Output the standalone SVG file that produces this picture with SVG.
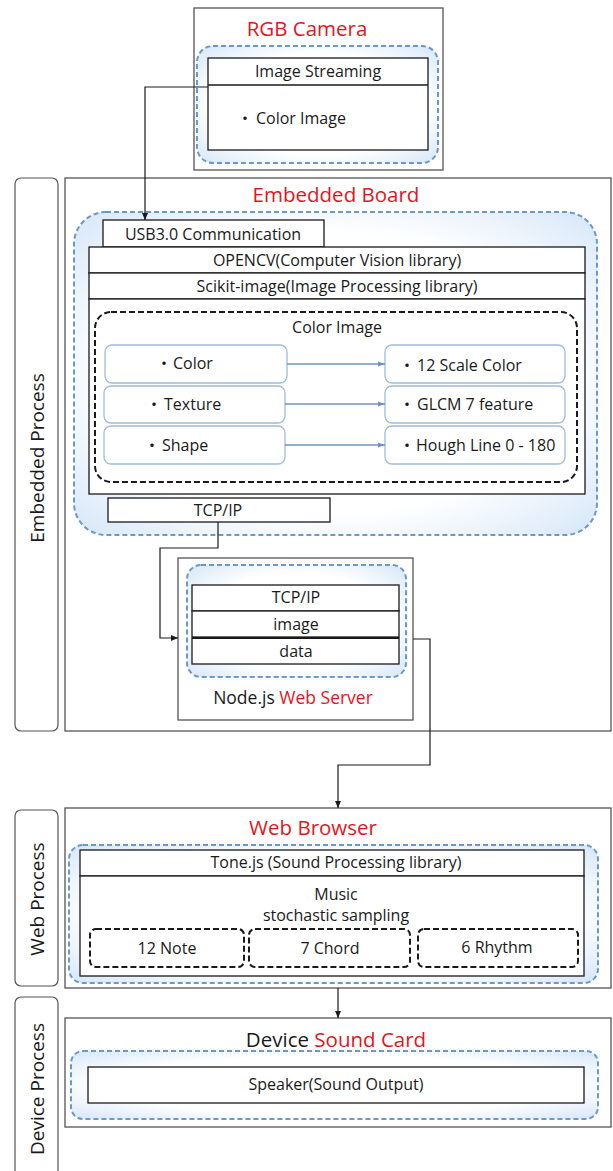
<svg xmlns="http://www.w3.org/2000/svg" width="613" height="1171" viewBox="0 0 613 1171">
<style>
text{font-family:"Open Sans","Noto Sans","Noto Sans CJK JP",sans-serif;fill:#1a1a1a}
.t{font-size:16px}
.c{text-anchor:middle}
.title{font-size:20.5px}
.red{fill:#e3161e}
.lbl{font-size:19px;text-anchor:middle}
.outer{fill:#fff;stroke:#555;stroke-width:1.3}
.side{fill:#fff;stroke:#555;stroke-width:1.2}
.box{fill:#fff;stroke:#1a1a1a;stroke-width:1.3}
.glow{fill:url(#glow);stroke:#6b98c8;stroke-width:2;stroke-dasharray:5 3}
.bdash{fill:none;stroke:#1a1a1a;stroke-width:2;stroke-dasharray:6 3}
.feat{fill:#fff;stroke:#9fbcdd;stroke-width:1.3}
.wire{fill:none;stroke:#1a1a1a;stroke-width:1.2}
.bwire{fill:none;stroke:#6f93c0;stroke-width:1.3}
</style>
<defs>
<radialGradient id="glow" cx="0.5" cy="0.5" r="0.72">
<stop offset="0.6" stop-color="#ffffff"/>
<stop offset="1" stop-color="#d3e5f8"/>
</radialGradient>
<marker id="ah" markerWidth="8" markerHeight="8" refX="7" refY="4" orient="auto" markerUnits="userSpaceOnUse">
<path d="M0,1 L7,4 L0,7 Z" fill="#1a1a1a"/>
</marker>
<marker id="bah" markerWidth="8" markerHeight="8" refX="7" refY="4" orient="auto" markerUnits="userSpaceOnUse">
<path d="M0,1.5 L7,4 L0,6.5 Z" fill="#6f93c0"/>
</marker>
</defs>

<g id="embedded-process-label">
<rect class="side" x="15" y="178" width="43" height="553" rx="6"/>
<text class="lbl" transform="translate(44,458) rotate(-90)">Embedded Process</text>
</g>
<g id="web-process-label">
<rect class="side" x="15" y="810" width="43" height="176" rx="6"/>
<text class="lbl" transform="translate(44,899) rotate(-90)">Web Process</text>
</g>
<g id="device-process-label">
<rect class="side" x="15" y="997" width="43" height="190" rx="6"/>
<text class="lbl" transform="translate(44,1089) rotate(-90)">Device Process</text>
</g>

<g id="rgb-camera">
<rect class="outer" x="194" y="8" width="249" height="162"/>
<text class="title red c" x="307" y="36">RGB Camera</text>
<rect class="glow" x="197" y="46" width="241" height="117" rx="16"/>
<rect class="box" x="208" y="58" width="220" height="92"/>
<line x1="208" y1="85" x2="428" y2="85" stroke="#1a1a1a" stroke-width="1.3"/>
<text class="t c" x="318" y="77">Image Streaming</text>
<text class="t" x="237" y="124">・<tspan x="256">Color Image</tspan></text>
</g>

<g id="embedded-board">
<rect class="outer" x="65" y="178" width="546" height="553"/>
<text class="title red c" x="336" y="202">Embedded Board</text>
<rect class="glow" x="74" y="212" width="523" height="323" rx="32"/>
<rect class="box" x="103" y="220" width="221" height="27"/>
<text class="t c" x="213" y="240">USB3.0 Communication</text>
<rect class="box" x="89" y="247" width="496" height="26"/>
<text class="t c" x="337" y="266">OPENCV(Computer Vision library)</text>
<rect class="box" x="89" y="273" width="496" height="26"/>
<text class="t c" x="337" y="292">Scikit-image(Image Processing library)</text>
<rect class="box" x="89" y="299" width="496" height="195"/>
<rect class="bdash" x="95" y="312" width="482" height="170" rx="16"/>
<text class="t c" x="337" y="333">Color Image</text>
<rect class="box" x="108" y="498" width="222" height="24"/>
<text class="t c" x="218" y="516">TCP/IP</text>
</g>

<g id="feat-color">
<rect class="feat" x="105" y="345" width="182" height="38" rx="7"/>
<text class="t" x="156" y="369">・<tspan x="173">Color</tspan></text>
</g>
<g id="feat-texture">
<rect class="feat" x="104" y="386" width="181" height="37" rx="7"/>
<text class="t" x="146" y="410">・<tspan x="164">Texture</tspan></text>
</g>
<g id="feat-shape">
<rect class="feat" x="104" y="426" width="181" height="38" rx="7"/>
<text class="t" x="144" y="451">・<tspan x="162">Shape</tspan></text>
</g>
<g id="out-color">
<rect class="feat" x="385" y="345" width="180" height="38" rx="7"/>
<text class="t" x="399" y="371">・<tspan x="417">12 Scale Color</tspan></text>
</g>
<g id="out-texture">
<rect class="feat" x="385" y="386" width="180" height="37" rx="7"/>
<text class="t" x="399" y="410">・<tspan x="417">GLCM 7 feature</tspan></text>
</g>
<g id="out-shape">
<rect class="feat" x="385" y="426" width="180" height="38" rx="7"/>
<text class="t" x="399" y="451">・<tspan x="416">Hough Line 0 - 180</tspan></text>
</g>

<g id="web-server">
<rect class="outer" x="178" y="558" width="235" height="162"/>
<rect class="glow" x="187" y="565" width="219" height="112" rx="14"/>
<rect class="box" x="192" y="585" width="207" height="26"/>
<text class="t c" x="296" y="603">TCP/IP</text>
<rect class="box" x="192" y="611" width="207" height="26"/>
<text class="t c" x="296" y="630">image</text>
<rect class="box" x="192" y="638" width="207" height="26"/>
<line x1="192" y1="638" x2="399" y2="638" stroke="#1a1a1a" stroke-width="2"/>
<text class="t c" x="296" y="657">data</text>
<text x="293" y="704" style="font-size:17.5px" class="c">Node.js <tspan class="red">Web Server</tspan></text>
</g>

<g id="web-browser">
<rect class="outer" x="65" y="808" width="546" height="180"/>
<text class="title red c" x="313" y="835">Web Browser</text>
<rect class="glow" x="69" y="845" width="529" height="138" rx="14"/>
<rect class="box" x="80" y="850" width="504" height="26"/>
<text class="t c" x="336" y="868">Tone.js (Sound Processing library)</text>
<rect class="box" x="80" y="876" width="504" height="100"/>
<text class="t c" x="336" y="900">Music</text>
<text class="t c" x="336" y="921">stochastic sampling</text>
<rect class="bdash" x="90" y="929" width="154" height="38" rx="6"/>
<text class="t c" x="167" y="954">12 Note</text>
<rect class="bdash" x="249" y="929" width="161" height="38" rx="6"/>
<text class="t c" x="330" y="954">7 Chord</text>
<rect class="bdash" x="418" y="929" width="160" height="38" rx="6"/>
<text class="t c" x="497" y="953">6 Rhythm</text>
</g>

<g id="sound-card">
<rect class="outer" x="65" y="1018" width="546" height="109"/>
<text x="336" y="1047" class="title c">Device <tspan class="red">Sound Card</tspan></text>
<rect class="glow" x="71" y="1051" width="527" height="68" rx="12"/>
<rect class="box" x="88" y="1067" width="496" height="36"/>
<text class="t c" x="336" y="1090">Speaker(Sound Output)</text>
</g>

<g id="connectors">
<path class="wire" d="M208,87 H145 V220" marker-end="url(#ah)"/>
<path class="wire" d="M218,522 V548 H160 V638 H178" marker-end="url(#ah)"/>
<path class="wire" d="M413,639 H430 V765 H338 V808" marker-end="url(#ah)"/>
<path class="wire" d="M338,988 V1018" stroke-width="2" marker-end="url(#ah)"/>
<path class="bwire" d="M287,364 H385" marker-end="url(#bah)"/>
<path class="bwire" d="M285,404 H385" marker-end="url(#bah)"/>
<path class="bwire" d="M285,445 H385" marker-end="url(#bah)"/>
</g>
</svg>
